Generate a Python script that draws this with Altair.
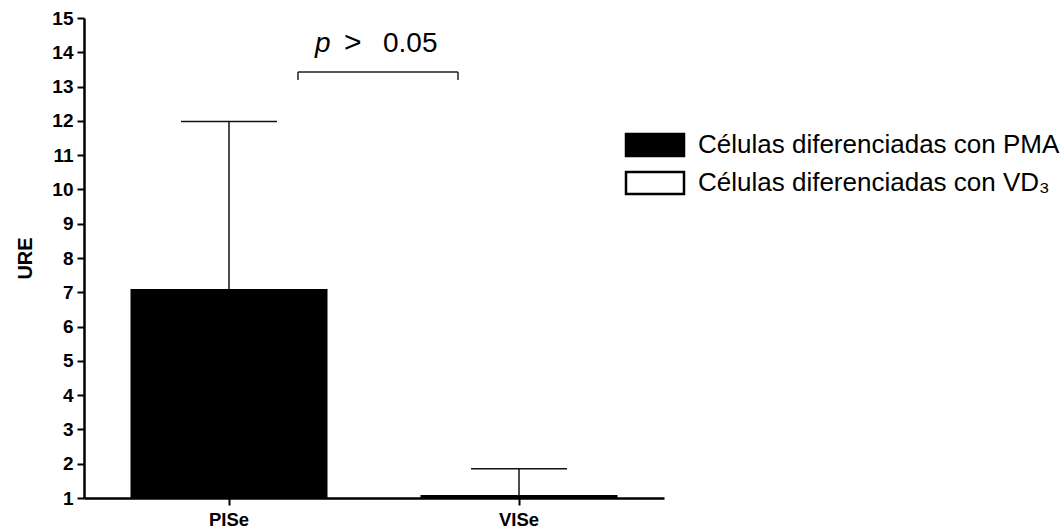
import altair as alt
import pandas as pd

categories = ["PISe", "VISe"]
groups = ["Células diferenciadas con PMA", "Células diferenciadas con VD₃"]
means = [7.07, 1.06]
upper = [11.98, 1.85]
y_ticks = list(range(1, 16))

df = pd.DataFrame({"cat": categories, "group": groups, "mean": means, "upper": upper})
dummy = pd.DataFrame({"k": [0]})

FONT = "Liberation Sans"

x_enc = alt.X(
    "cat:N",
    scale=alt.Scale(domain=categories, paddingInner=0, paddingOuter=0),
    axis=alt.Axis(
        title=None, labelAngle=0, labelFont=FONT, labelFontSize=18.5,
        labelFontWeight="bold", tickSize=7, tickWidth=2, domainWidth=2.5,
        labelPadding=5,
    ),
)
y_scale = alt.Scale(domain=[1, 15], zero=False, nice=False)
y_axis = alt.Axis(
    title="URE", values=y_ticks, labelFont=FONT, labelFontSize=19,
    labelFontWeight="bold", titleFont=FONT, titleFontSize=20,
    titleFontWeight="bold", tickSize=7, tickWidth=2, domainWidth=2.5,
    labelPadding=4, titlePadding=16,
)

base = alt.Chart(df)

err = base.mark_rule(color="#111111", strokeWidth=1.5).encode(
    x=x_enc,
    y=alt.Y("mean:Q", scale=y_scale, axis=y_axis),
    y2="upper:Q",
)

bars = base.mark_bar(size=195, stroke="black", strokeWidth=2).encode(
    x=x_enc,
    y=alt.Y("mean:Q", scale=y_scale, axis=y_axis),
    y2=alt.datum(1),
    fill=alt.Fill(
        "group:N",
        scale=alt.Scale(domain=groups, range=["black", "white"]),
        legend=alt.Legend(
            title=None, orient="none", legendX=558, legendY=114,
            symbolType="M-2.5,-0.95H2.5V0.95H-2.5Z", symbolSize=538,
            symbolStrokeColor="black", symbolStrokeWidth=2.5,
            symbolOpacity=1,
            labelFont=FONT, labelFontSize=26, labelOffset=30,
            rowPadding=4, labelLimit=600, labelColor="black",
        ),
    ),
)

cap = base.mark_tick(size=96, thickness=1.5, color="#111111", opacity=1).encode(
    x=x_enc,
    y=alt.Y("upper:Q", scale=y_scale, axis=y_axis),
)

br_color = "#222222"
bracket_h = alt.Chart(dummy).mark_rule(color=br_color, strokeWidth=1.5).encode(
    x=alt.value(214), x2=alt.value(374), y=alt.value(54)
)
bracket_l = alt.Chart(dummy).mark_rule(color=br_color, strokeWidth=1.5).encode(
    x=alt.value(214), y=alt.value(54), y2=alt.value(62)
)
bracket_r = alt.Chart(dummy).mark_rule(color=br_color, strokeWidth=1.5).encode(
    x=alt.value(374), y=alt.value(54), y2=alt.value(62)
)

t_p = alt.Chart(dummy).mark_text(
    text="p", font=FONT, fontSize=28, fontStyle="italic", align="left",
    baseline="alphabetic", color="black"
).encode(x=alt.value(231), y=alt.value(34))
t_gt = alt.Chart(dummy).mark_text(
    text=">", font=FONT, fontSize=30, align="left",
    baseline="alphabetic", color="black"
).encode(x=alt.value(260), y=alt.value(34))
t_val = alt.Chart(dummy).mark_text(
    text="0.05", font=FONT, fontSize=28, align="left",
    baseline="alphabetic", color="black"
).encode(x=alt.value(299), y=alt.value(34))

chart = alt.layer(
    err, bars, cap, bracket_h, bracket_l, bracket_r, t_p, t_gt, t_val
).properties(
    width=580, height=480,
    autosize=alt.AutoSizeParams(type="none"),
    padding={"left": 84, "top": 18, "right": 398, "bottom": 31},
    background="white",
).configure_view(stroke=None).configure_axis(
    grid=False, domainColor="black", tickColor="black",
    labelColor="black", titleColor="black",
)

chart.save("out.html", embed_options={"renderer": "svg", "actions": False})
